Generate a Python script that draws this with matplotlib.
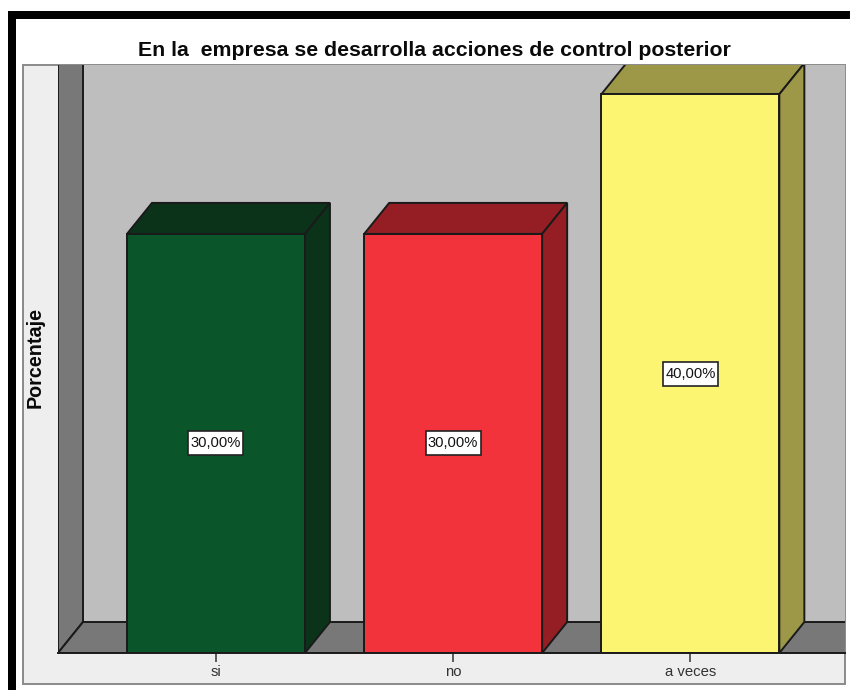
import matplotlib
matplotlib.use("Agg")
import matplotlib.pyplot as plt
from matplotlib.patches import Polygon, Rectangle

categories = ["si", "no", "a veces"]
values = [30, 30, 40]
labels = ["30,00%", "30,00%", "40,00%"]
front_colors = ["#0B552B", "#F3333B", "#FBF571"]
dark_colors = ["#0A331A", "#951E24", "#9C9848"]

W, H = 850, 690
plt.rcParams["font.family"] = ["Liberation Sans", "DejaVu Sans"]

fig = plt.figure(figsize=(W / 100, H / 100), dpi=100, facecolor="white")


def px_rect(x0, y0, x1, y1, **kw):
    # rectangle in image pixels, y going down
    fig.add_artist(Rectangle((x0 / W, 1 - y1 / H), (x1 - x0) / W, (y1 - y0) / H,
                             transform=fig.transFigure, zorder=-1, **kw))


# black frame and light panel
px_rect(8, 11, W, 19, fc="black", ec="none")
px_rect(8, 11, 16, H, fc="black", ec="none")
px_rect(23, 65, 845, 684, fc="#EEEEEE", ec="#8A8A8A", lw=1.4)

ax = fig.add_axes([58 / W, 1 - 653 / H, 787 / W, 588 / H])
ax.patch.set_alpha(0)

# scale: 237.2 px per category, 13.97 px per percent
x0, x1 = -0.666, 2.652
y1 = 588 / 13.97
ax.set_xlim(x0, x1)
ax.set_ylim(0, y1)
dx = 25 / 237.2
dy = 31 / 13.97
bw = 178 / 237.2
edge = "#1A1A1A"

# back wall, side wall, floor (run past the axes so the clip hides the far edges)
ax.add_patch(Rectangle((x0 + dx, dy), x1 - x0 - dx, y1 - dy, fc="#BEBEBE", ec="none", zorder=1))
ax.add_patch(Polygon([(x0, 0), (x0 + dx, dy), (x0 + dx, y1 + 2), (x0, y1 + 2)],
                     fc="#787878", ec=edge, lw=1.4, zorder=2))
ax.add_patch(Polygon([(x0, 0), (x0 + dx, dy), (x1 + 1, dy), (x1 + 1, 0)],
                     fc="#787878", ec=edge, lw=1.4, zorder=2))

box_w = 55 / 237.2
box_h = 24 / 13.97
for i, v in enumerate(values):
    l, r = i - bw / 2, i + bw / 2
    ax.add_patch(Polygon([(l, v), (l + dx, v + dy), (r + dx, v + dy), (r, v)],
                         fc=dark_colors[i], ec=edge, lw=1.4, zorder=3))
    ax.add_patch(Polygon([(r, 0), (r + dx, dy), (r + dx, v + dy), (r, v)],
                         fc=dark_colors[i], ec=edge, lw=1.4, zorder=3))
    ax.bar(i, v, width=bw, color=front_colors[i], edgecolor=edge, linewidth=1.4, zorder=4)
    ax.add_patch(Rectangle((i - box_w / 2, v / 2 - box_h / 2), box_w, box_h,
                           fc="white", ec="#222222", lw=1.2, zorder=5))
    ax.text(i, v / 2, labels[i], ha="center", va="center", fontsize=10.6, color="#111111", zorder=6)

for s in ["top", "left", "right"]:
    ax.spines[s].set_visible(False)
ax.spines["bottom"].set_color(edge)
ax.spines["bottom"].set_linewidth(1.4)
ax.spines["bottom"].set_zorder(5)

ax.set_yticks([])
ax.set_xticks(range(len(categories)), categories)
ax.tick_params(axis="x", length=6.5, width=1.1, color="#333333", labelsize=10.7,
               labelcolor="#333333", pad=2.2)

fig.text(434.5 / W, 1 - 50.5 / H, "En la  empresa se desarrolla acciones de control posterior",
         ha="center", va="center", fontsize=15.3, fontweight="bold", color="#0A0A0A")
fig.text(35 / W, 1 - 358 / H, "Porcentaje", rotation=90, ha="center", va="center",
         fontsize=14.2, fontweight="bold", color="#0A0A0A")

fig.savefig("out.png", dpi=100)
